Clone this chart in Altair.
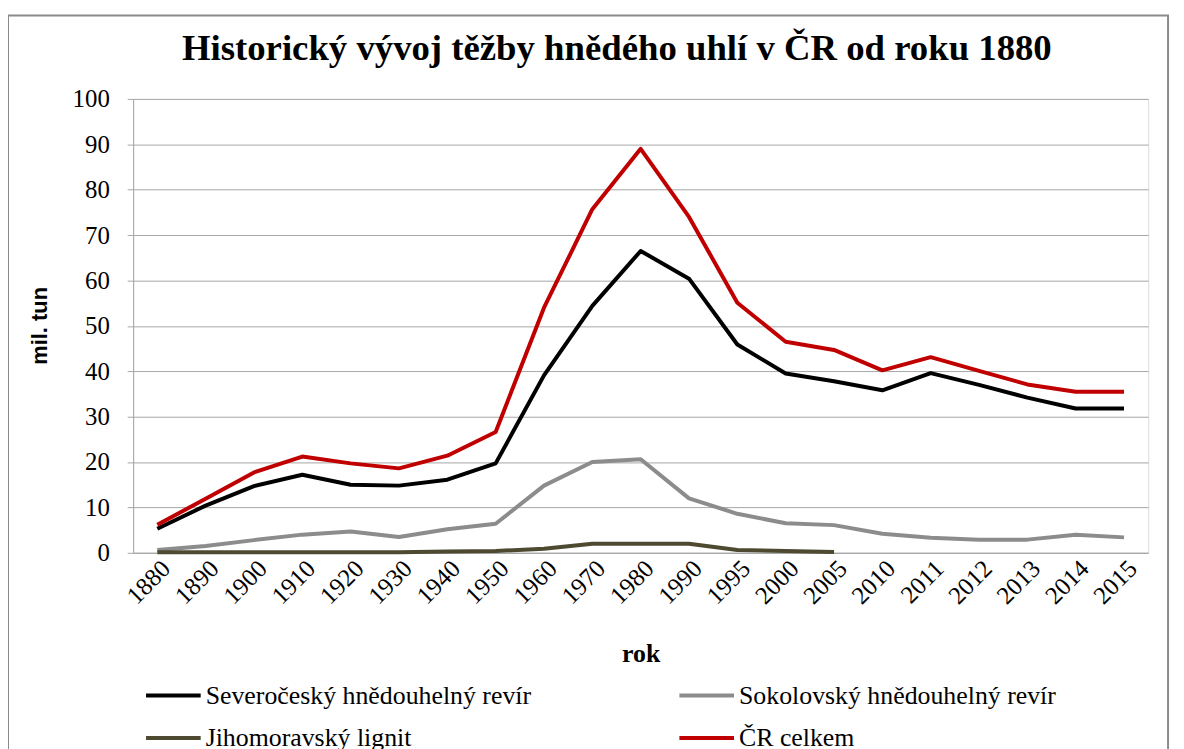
import altair as alt
import pandas as pd

years = ["1880", "1890", "1900", "1910", "1920", "1930", "1940", "1950", "1960", "1970",
         "1980", "1990", "1995", "2000", "2005", "2010", "2011", "2012", "2013", "2014", "2015"]

severocesky = [5.3, 10.4, 14.7, 17.2, 15.0, 14.8, 16.1, 19.7, 39.1, 54.4,
               66.5, 60.4, 45.9, 39.5, 37.8, 35.8, 39.6, 37.0, 34.2, 31.8, 31.8]
sokolovsky = [0.6, 1.5, 2.8, 4.0, 4.7, 3.5, 5.2, 6.4, 14.8, 20.0,
              20.6, 12.0, 8.6, 6.5, 6.1, 4.2, 3.3, 2.9, 2.9, 4.0, 3.4]
jihomoravsky = [0.1, 0.1, 0.1, 0.1, 0.1, 0.1, 0.3, 0.4, 0.9, 2.0,
                2.0, 2.0, 0.6, 0.4, 0.2]
cr_celkem = [6.2, 11.9, 17.7, 21.2, 19.7, 18.6, 21.4, 26.6, 54.0, 75.7,
             89.0, 74.0, 55.1, 46.5, 44.7, 40.2, 43.1, 40.1, 37.1, 35.5, 35.5]

series_names = ["Severočeský hnědouhelný revír", "Sokolovský hnědouhelný revír",
                "Jihomoravský lignit", "ČR celkem"]
series_colors = ["#000000", "#8c8c8c", "#4d4a31", "#c00000"]
series_values = [severocesky, sokolovsky, jihomoravsky, cr_celkem]
y_ticks = [0, 10, 20, 30, 40, 50, 60, 70, 80, 90, 100]

rows = []
for order, (name, vals) in enumerate(zip(series_names, series_values)):
    for yr, v in zip(years, vals):
        rows.append({"rok": yr, "hodnota": v, "rada": name, "poradi": order})
df = pd.DataFrame(rows)

SERIF = "Liberation Serif"

lines = alt.Chart(df).mark_line(strokeWidth=4, strokeJoin="round", strokeCap="butt").encode(
    x=alt.X("rok:O", sort=years,
            scale=alt.Scale(type="point", padding=0.5),
            axis=alt.Axis(title="rok", labelAngle=-45, labelFont=SERIF, labelFontSize=25,
                          labelColor="#000000", labelPadding=3, ticks=False,
                          domainColor="#a6a6a6", titleFont=SERIF, titleFontSize=26,
                          titleFontWeight="bold", titleColor="#000000",
                          titleY=101, titleBaseline="middle")),
    y=alt.Y("hodnota:Q",
            scale=alt.Scale(domain=[0, 100], nice=False),
            axis=alt.Axis(title="mil. tun", values=y_ticks, labelFont=SERIF, labelFontSize=25,
                          labelColor="#000000", labelPadding=18, tickSize=6,
                          tickColor="#a6a6a6", domainColor="#a6a6a6",
                          gridColor="#a6a6a6", gridWidth=1,
                          titleFont="Liberation Sans", titleFontSize=22,
                          titleFontWeight="bold", titleColor="#000000",
                          titleX=-94, titleY=228, titleAngle=-90,
                          titleAlign="center", titleBaseline="middle")),
    color=alt.Color("rada:N",
                    scale=alt.Scale(domain=series_names, range=series_colors),
                    legend=alt.Legend(title=None, orient="none", legendX=11, legendY=571,
                                      columns=2, direction="horizontal",
                                      symbolType="stroke", symbolStrokeWidth=4,
                                      symbolSize=3025, labelFont=SERIF, labelFontSize=26,
                                      labelColor="#000000", labelOffset=3,
                                      columnPadding=141, rowPadding=-12, padding=0,
                                      labelLimit=500)),
    order=alt.Order("poradi:Q"),
    detail="rada:N",
)

frame = alt.Chart(pd.DataFrame({"a": [0]})).mark_rect(
    fill=None, stroke="#8a8a8a", strokeWidth=2
).encode(
    x=alt.value(-126), x2=alt.value(1042), y=alt.value(-84), y2=alt.value(700)
)

chart = alt.layer(frame, lines).properties(
    width=1022,
    height=457,
    title=alt.TitleParams(
        text="Historický vývoj těžby hnědého uhlí v ČR od roku 1880",
        font=SERIF, fontSize=37, fontWeight="bold", color="#000000",
        anchor="middle", dx=-24, dy=83, frame="group", offset=0, baseline="alphabetic",
    ),
    autosize=alt.AutoSizeParams(type="none"),
    padding={"left": 126, "top": 89, "right": 28, "bottom": 195},
).configure_view(
    stroke="#b3b3b3", strokeWidth=1
).configure(background="#ffffff")

chart.save("out.html", embed_options={"renderer": "svg", "actions": False})
